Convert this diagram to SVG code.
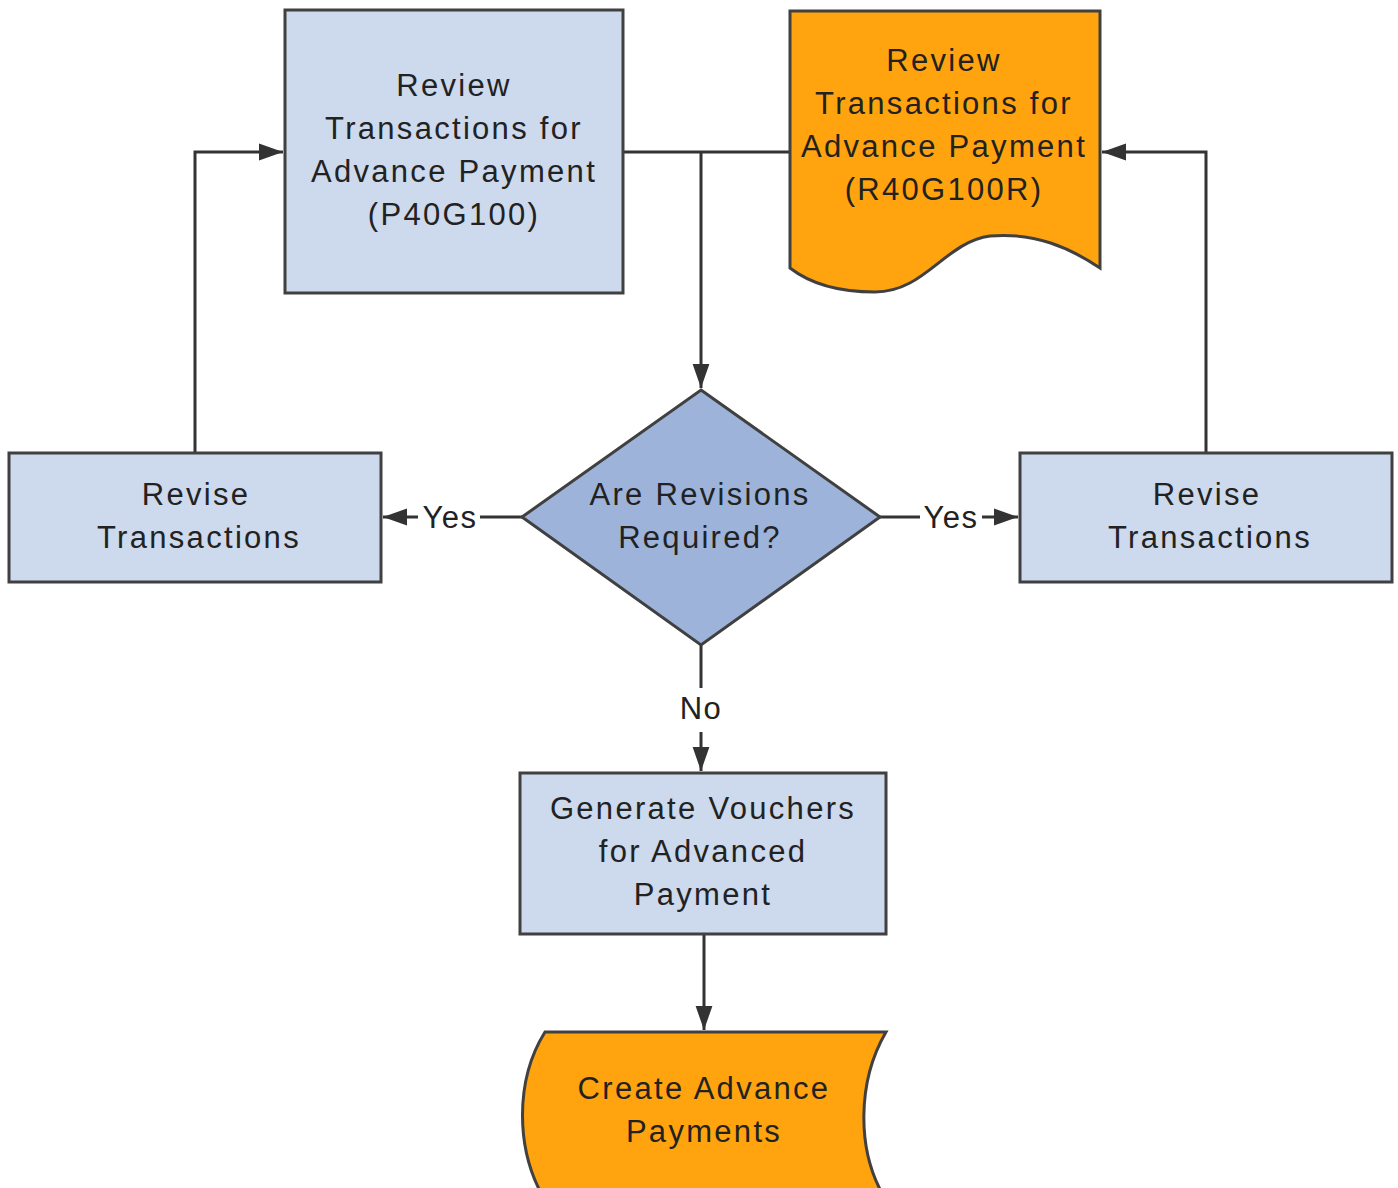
<svg xmlns="http://www.w3.org/2000/svg" width="1398" height="1188" viewBox="0 0 1398 1188">
<defs>
<marker id="ah2" viewBox="0 0 10 10" refX="10" refY="5" markerWidth="24" markerHeight="24" markerUnits="userSpaceOnUse" orient="auto">
<path d="M0,1.5 L10,5 L0,8.5 z" fill="#333"/>
</marker>
</defs>
<style>
.box{fill:#cdd9ec;stroke:#404040;stroke-width:3}
.org{fill:#ffa30f;stroke:#404040;stroke-width:3}
.dia{fill:#9db3da;stroke:#404040;stroke-width:3}
.t{font-family:"Liberation Sans",Arial,sans-serif;font-size:31px;letter-spacing:2.3px;fill:#222;text-anchor:middle}
.lbl{font-family:"Liberation Sans",Arial,sans-serif;font-size:31px;letter-spacing:1.5px;fill:#222;text-anchor:middle}
.c{fill:none;stroke:#333;stroke-width:3}
</style>
<rect width="1398" height="1188" fill="#fff"/>
<g id="connectors">
<path class="c" d="M623,152 H790"/>
<path class="c" d="M701,152 V388" marker-end="url(#ah2)"/>
<path class="c" d="M195,453 V152 H283" marker-end="url(#ah2)"/>
<path class="c" d="M1206,453 V152 H1102" marker-end="url(#ah2)"/>
<path class="c" d="M522,517 H480 M418,517 H383" marker-end="url(#ah2)"/>
<path class="c" d="M880,517 H920 M982,517 H1018" marker-end="url(#ah2)"/>
<path class="c" d="M701,645 V688 M701,732 V771" marker-end="url(#ah2)"/>
<path class="c" d="M704,934 V1030" marker-end="url(#ah2)"/>
<text class="lbl" x="450" y="528">Yes</text>
<text class="lbl" x="951" y="528">Yes</text>
<text class="lbl" x="701" y="719">No</text>
</g>
<g id="n1">
<rect class="box" x="285" y="10" width="338" height="283"/>
<text class="t" x="454" y="96">Review</text>
<text class="t" x="454" y="139">Transactions for</text>
<text class="t" x="454" y="182">Advance Payment</text>
<text class="t" x="454" y="225">(P40G100)</text>
</g>
<g id="n2">
<path class="org" d="M790,11 H1100 V268 C1070,248 1035,232 990,236 C945,242 925,292 875,292 C835,292 808,282 790,268 Z"/>
<text class="t" x="944" y="71">Review</text>
<text class="t" x="944" y="114">Transactions for</text>
<text class="t" x="944" y="157">Advance Payment</text>
<text class="t" x="944" y="200">(R40G100R)</text>
</g>
<g id="n3">
<path class="dia" d="M701,390 L880,517 L701,645 L522,517 Z"/>
<text class="t" x="700" y="505">Are Revisions</text>
<text class="t" x="700" y="548">Required?</text>
</g>
<g id="n4">
<rect class="box" x="9" y="453" width="372" height="129"/>
<text class="t" x="196" y="505">Revise</text>
<text class="t" x="199" y="548">Transactions</text>
</g>
<g id="n5">
<rect class="box" x="1020" y="453" width="372" height="129"/>
<text class="t" x="1207" y="505">Revise</text>
<text class="t" x="1210" y="548">Transactions</text>
</g>
<g id="n6">
<rect class="box" x="520" y="773" width="366" height="161"/>
<text class="t" x="703" y="819">Generate Vouchers</text>
<text class="t" x="703" y="862">for Advanced</text>
<text class="t" x="703" y="905">Payment</text>
</g>
<g id="n7">
<path class="org" d="M545,1032 H886 C858,1080 855,1150 886,1200 H545 C515,1150 515,1080 545,1032 Z"/>
<text class="t" x="704" y="1099">Create Advance</text>
<text class="t" x="704" y="1142">Payments</text>
</g>
</svg>
